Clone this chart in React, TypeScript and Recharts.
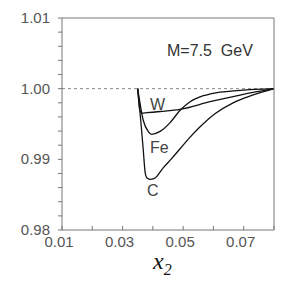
import { LineChart, Line, XAxis, YAxis, ReferenceLine } from 'recharts'

// ── data ──────────────────────────────────────────────────────────────────

const xTicks = [0.01, 0.02, 0.03, 0.04, 0.05, 0.06, 0.07, 0.08]
const xLabels = [0.01, 0.03, 0.05, 0.07]
const yTicks = [0.98, 0.982, 0.984, 0.986, 0.988, 0.99, 0.992, 0.994, 0.996, 0.998, 1.0, 1.002, 1.004, 1.006, 1.008, 1.01]
const yLabels = [0.98, 0.99, 1.0, 1.01]

const wX = [0.035, 0.0357, 0.0364, 0.038, 0.0424, 0.049, 0.0589, 0.0688, 0.08]
const wR = [1.0, 0.997, 0.99655, 0.9966, 0.99677, 0.99708, 0.99815, 0.9991, 1.0]

const feX = [0.035, 0.0368, 0.0385, 0.0396, 0.0424, 0.0457, 0.049, 0.0523, 0.0567, 0.0589, 0.0688, 0.08]
const feR = [1.0, 0.99557, 0.99391, 0.99354, 0.99395, 0.9952, 0.99695, 0.99815, 0.999, 0.99925, 0.99975, 1.0]

const cX = [0.035, 0.036, 0.0368, 0.0375, 0.038, 0.039, 0.0405, 0.0434, 0.0462, 0.049, 0.052, 0.0556, 0.0605, 0.0665, 0.072, 0.0776, 0.08]
const cR = [1.0, 0.9955, 0.9915, 0.988, 0.9874, 0.98717, 0.9873, 0.9888, 0.9901, 0.9915, 0.993, 0.9946, 0.99645, 0.998, 0.99895, 0.9997, 1.0]

const toPoints = (xs: number[], ys: number[]) => xs.map((x, i) => ({ x, r: ys[i] }))

const AXIS = '#777'
const LABEL = '#555'
const FONT = '"Liberation Sans", Arial, sans-serif'

const near = (list: number[], v: number) => list.some(l => Math.abs(l - v) < 1e-6)

// ── tick renderers (inward/outward marks drawn by hand) ────────────────────

function BottomTick({ x, y, payload }: any) {
  const v = payload.value
  return (
    <g>
      <line x1={x} x2={x} y1={y} y2={y - 4} stroke={AXIS} />
      {near(xLabels, v) && (
        <text x={x - 3} y={y + 17} textAnchor="middle" fontSize={15} fontFamily={FONT} fill={LABEL}>
          {v.toFixed(2)}
        </text>
      )}
    </g>
  )
}

function TopTick({ x, y }: any) {
  return <line x1={x} x2={x} y1={y} y2={y + 4} stroke={AXIS} />
}

function LeftTick({ x, y, payload }: any) {
  const v = payload.value
  return (
    <g>
      <line x1={x - 4} x2={x} y1={y} y2={y} stroke={AXIS} />
      {near(yLabels, v) && (
        <text x={x - 12} y={y + 5} textAnchor="end" fontSize={15} fontFamily={FONT} fill={LABEL}>
          {v.toFixed(2)}
        </text>
      )}
    </g>
  )
}

function RightTick({ x, y }: any) {
  return <line x1={x - 4} x2={x} y1={y} y2={y} stroke={AXIS} />
}

export default function App() {
  return (
    <div style={{ position: 'absolute', left: 0, top: 0, width: 300, height: 290, background: '#fff' }}>
      <LineChart width={300} height={290} margin={{ top: 17, right: 25, bottom: 30, left: 12 }}>
        <XAxis xAxisId="b" dataKey="x" type="number" domain={[0.01, 0.08]} ticks={xTicks} interval={0}
          height={30} tickSize={0} tickMargin={0} tickLine={false} axisLine={{ stroke: AXIS }} tick={<BottomTick />} allowDuplicatedCategory={false} />
        <XAxis xAxisId="t" orientation="top" dataKey="x" type="number" domain={[0.01, 0.08]} ticks={xTicks} interval={0}
          height={1} tickSize={0} tickMargin={0} tickLine={false} axisLine={{ stroke: AXIS }} tick={<TopTick />} allowDuplicatedCategory={false} />
        <YAxis yAxisId="l" type="number" domain={[0.98, 1.01]} ticks={yTicks} interval={0}
          width={50} tickSize={0} tickMargin={0} tickLine={false} axisLine={{ stroke: AXIS }} tick={<LeftTick />} />
        <YAxis yAxisId="r" orientation="right" type="number" domain={[0.98, 1.01]} ticks={yTicks} interval={0}
          width={1} tickSize={0} tickMargin={0} tickLine={false} axisLine={{ stroke: AXIS }} tick={<RightTick />} />
        <ReferenceLine xAxisId="b" yAxisId="l" y={1} stroke="#888" strokeDasharray="3 3" />
        <Line xAxisId="b" yAxisId="l" data={toPoints(cX, cR)} dataKey="r" type="monotone" stroke="#111" strokeWidth={1.3} dot={false} isAnimationActive={false} />
        <Line xAxisId="b" yAxisId="l" data={toPoints(feX, feR)} dataKey="r" type="monotone" stroke="#111" strokeWidth={1.3} dot={false} isAnimationActive={false} />
        <Line xAxisId="b" yAxisId="l" data={toPoints(wX, wR)} dataKey="r" type="monotone" stroke="#111" strokeWidth={1.3} dot={false} isAnimationActive={false} />
      </LineChart>
      <svg width={300} height={290} style={{ position: 'absolute', left: 0, top: 0, pointerEvents: 'none' }}>
        <text x={167} y={56} fontSize={16} fontFamily={FONT} fill="#333">M=7.5&#160;&#160;GeV</text>
        <text x={150} y={110} fontSize={16} fontFamily={FONT} fill="#444">W</text>
        <text x={150} y={153} fontSize={16} fontFamily={FONT} fill="#444">Fe</text>
        <text x={147} y={196} fontSize={16} fontFamily={FONT} fill="#444">C</text>
        <text x={153} y={269} fontSize={24} fontFamily='"Liberation Serif", serif' fontStyle="italic" fill="#111">
          x<tspan fontSize={16} dy={6}>2</tspan>
        </text>
      </svg>
    </div>
  )
}
